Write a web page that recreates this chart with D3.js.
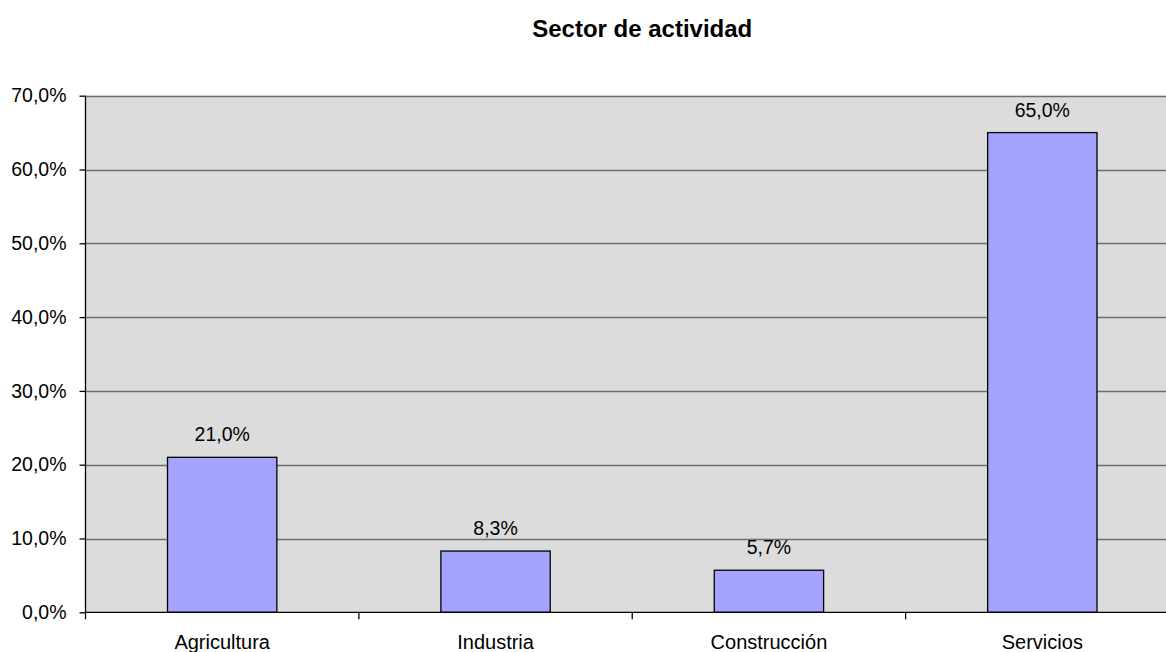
<!DOCTYPE html>
<html><head><meta charset="utf-8">
<script src="https://cdn.jsdelivr.net/npm/d3@7"></script>
<style>html,body{margin:0;padding:0;background:#fff;overflow:hidden}</style>
</head><body>
<svg id="c" width="1166" height="652"></svg>
<script>
const categories = ["Agricultura","Industria","Construcción","Servicios"];
const values = [21.0, 8.3, 5.7, 65.0];
const yTicks = [0,10,20,30,40,50,60,70];
const title = "Sector de actividad";

const fmt = v => d3.format(".1f")(v).replace(".", ",") + "%";
const svg = d3.select("#c");
const m = {left: 85.5, right: 1179, top: 95.7, bottom: 612.3};
const font = "'Liberation Sans', Arial, sans-serif";
const fs = 19.5;

const x = d3.scaleBand().domain(categories).range([m.left, m.right]).paddingInner(0.6).paddingOuter(0.3);
const xb = d3.scaleBand().domain(categories).range([m.left, m.right]);
const y = d3.scaleLinear().domain([0,70]).range([m.bottom, m.top]);

svg.append("rect").attr("x", m.left).attr("y", m.top).attr("width", m.right - m.left).attr("height", m.bottom - m.top).attr("fill", "#dcdcdc");

svg.append("g").selectAll("line").data(yTicks.filter(d => d > 0)).join("line")
  .attr("x1", m.left).attr("x2", m.right)
  .attr("y1", d => Math.round(y(d)) + 0.5).attr("y2", d => Math.round(y(d)) + 0.5)
  .attr("stroke", "#6e6e6e").attr("stroke-width", 1.3);

svg.append("g").selectAll("rect").data(values).join("rect")
  .attr("x", (d,i) => x(categories[i]))
  .attr("y", d => y(d))
  .attr("width", x.bandwidth())
  .attr("height", d => m.bottom - y(d))
  .attr("fill", "#a4a4ff").attr("stroke", "#000").attr("stroke-width", 1.3);

svg.append("g").selectAll("text").data(values).join("text")
  .attr("x", (d,i) => x(categories[i]) + x.bandwidth()/2)
  .attr("y", d => y(d) - 16)
  .attr("text-anchor", "middle").attr("font-family", font).attr("font-size", fs).attr("fill", "#000")
  .text(d => fmt(d));

// y axis
const ya = d3.axisLeft(y).tickValues(yTicks).tickSize(6).tickPadding(13).tickFormat(d => fmt(d));
const gy = svg.append("g").attr("transform", `translate(${m.left},0)`).call(ya);
gy.select(".domain").attr("stroke", "#000").attr("stroke-width", 1.3).attr("d", `M0,${m.top}V${m.bottom}`);
gy.selectAll(".tick line").attr("stroke", "#000").attr("stroke-width", 1.3);
gy.selectAll(".tick text").attr("font-family", font).attr("font-size", fs).attr("fill", "#000");

// x axis
const xa = d3.axisBottom(xb).tickSize(0).tickPadding(0);
const gx = svg.append("g").attr("transform", `translate(0,${m.bottom})`).call(xa);
gx.select(".domain").attr("stroke", "#000").attr("stroke-width", 1.3).attr("d", `M${m.left},0H${m.right}`);
gx.selectAll(".tick text").attr("font-family", font).attr("font-size", 20).attr("fill", "#000")
  .attr("y", 36.5).attr("dy", null);
svg.append("g").selectAll("line").data(categories).join("line")
  .attr("x1", d => xb(d)).attr("x2", d => xb(d))
  .attr("y1", m.bottom).attr("y2", m.bottom + 7)
  .attr("stroke", "#000").attr("stroke-width", 1.3);

svg.append("text").attr("x", (m.left + m.right)/2 + 10).attr("y", 37)
  .attr("text-anchor", "middle").attr("font-family", font).attr("font-size", 24).attr("font-weight", "bold")
  .text(title);
</script>
</body></html>
